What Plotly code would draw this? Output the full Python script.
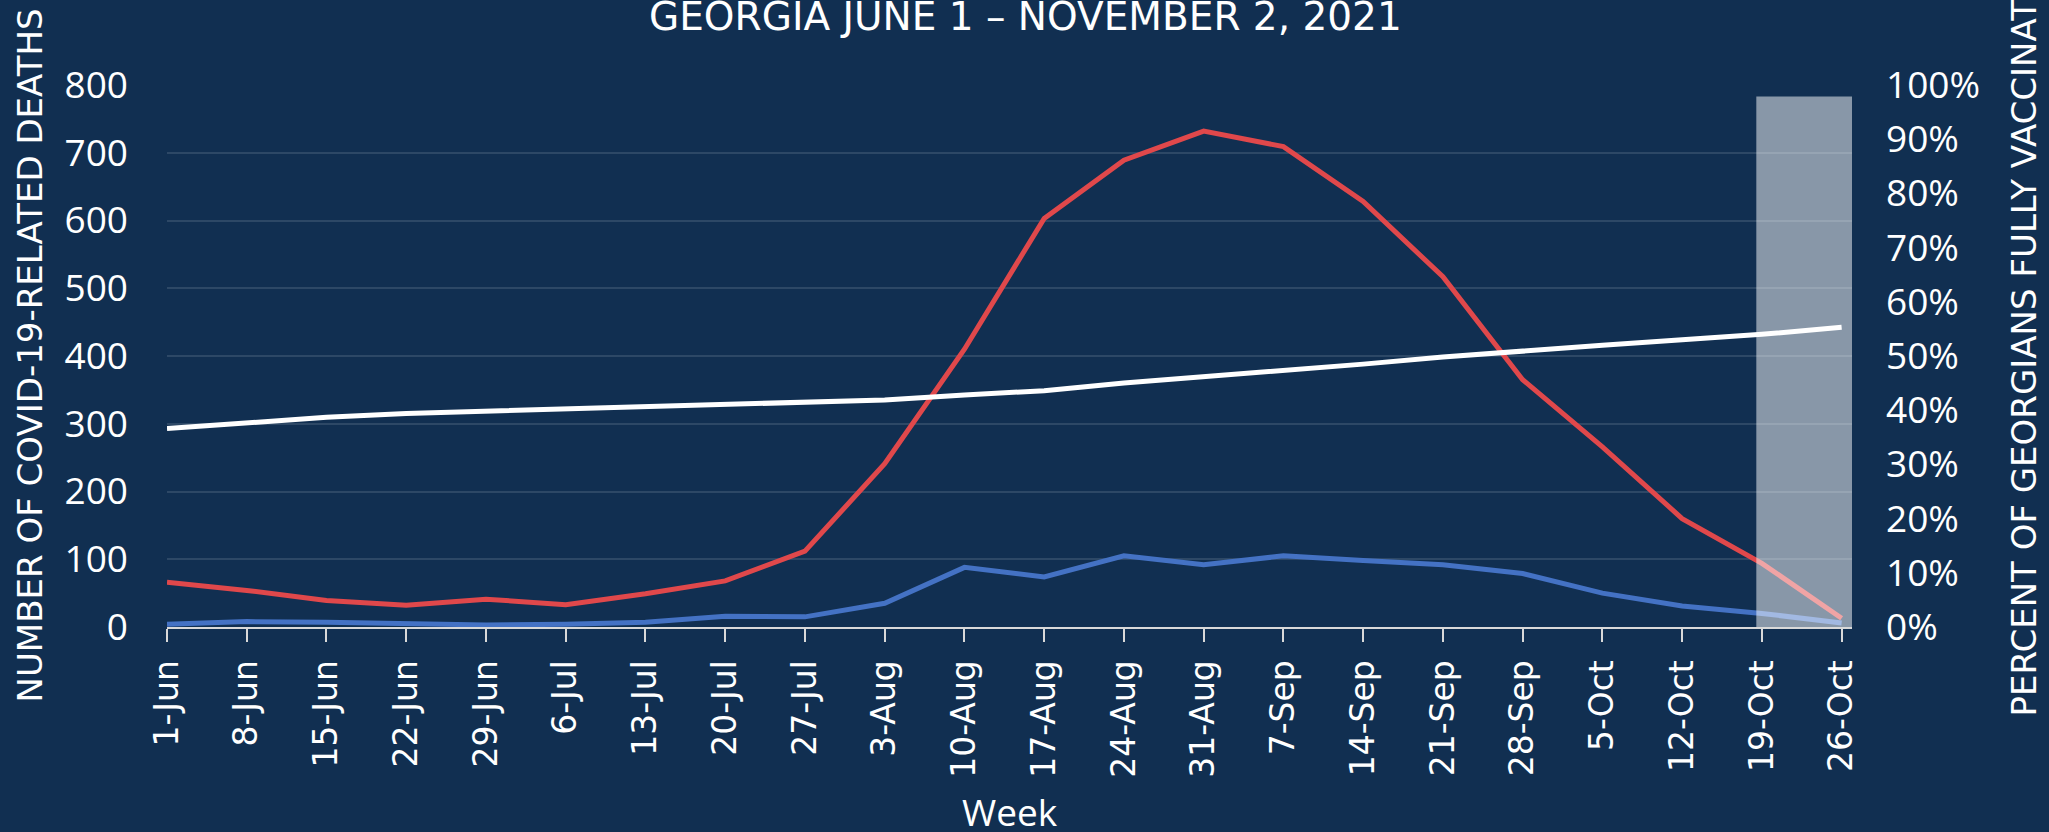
import plotly.graph_objects as go

weeks = ["1-Jun", "8-Jun", "15-Jun", "22-Jun", "29-Jun", "6-Jul", "13-Jul", "20-Jul",
         "27-Jul", "3-Aug", "10-Aug", "17-Aug", "24-Aug", "31-Aug", "7-Sep", "14-Sep",
         "21-Sep", "28-Sep", "5-Oct", "12-Oct", "19-Oct", "26-Oct"]
deaths_red = [66, 54, 39, 32, 41, 33, 49, 68, 112, 241, 410, 603, 689, 732, 709, 628,
              517, 365, 266, 160, 94, 13]
deaths_blue = [4, 8, 7, 5, 3, 4, 7, 16, 15, 35, 88, 74, 105, 92, 105, 98, 92, 79, 50, 31, 20, 6]
pct_fully_vaccinated = [0.366, 0.377, 0.387, 0.394, 0.398, 0.403, 0.407, 0.411, 0.414, 0.419,
                        0.428, 0.436, 0.450, 0.461, 0.474, 0.485, 0.498, 0.510, 0.520, 0.530,
                        0.540, 0.553]
left_ticks = [0, 100, 200, 300, 400, 500, 600, 700, 800]
right_ticks = [0, 0.1, 0.2, 0.3, 0.4, 0.5, 0.6, 0.7, 0.8, 0.9, 1.0]
shade_from_week = "19-Oct"
shade_top = 783

BG = "#112F51"
RED = "#E0484B"
BLUE = "#4472C4"
GRID = "rgba(255,255,255,0.12)"
AXIS = "#D9D9D9"

xs = list(range(len(weeks)))
x_max = len(weeks) - 1 + 0.13

fig = go.Figure()
fig.add_trace(go.Scatter(x=xs, y=deaths_red, mode="lines", name="Deaths (red)",
                         line=dict(color=RED, width=5), yaxis="y"))
fig.add_trace(go.Scatter(x=xs, y=deaths_blue, mode="lines", name="Deaths (blue)",
                         line=dict(color=BLUE, width=5), yaxis="y"))
fig.add_trace(go.Scatter(x=xs, y=pct_fully_vaccinated, mode="lines", name="Percent fully vaccinated",
                         line=dict(color="#FFFFFF", width=5), yaxis="y2"))

fig.add_shape(type="rect", xref="x", yref="y",
              x0=weeks.index(shade_from_week) - 0.07, x1=x_max, y0=0, y1=shade_top,
              fillcolor="rgba(255,255,255,0.5)", line=dict(width=0), layer="above")

num_font = dict(family="Open Sans", size=37, color="white")

fig.update_layout(
    width=2049, height=832,
    paper_bgcolor=BG, plot_bgcolor=BG,
    margin=dict(l=167, r=197, t=85, b=205),
    showlegend=False,
    xaxis=dict(range=[0, x_max], tickvals=xs, ticktext=weeks, tickangle=-90,
               showgrid=False, zeroline=False, showline=True, linecolor=AXIS, linewidth=2,
               ticks="outside", ticklen=13, tickwidth=2, tickcolor=AXIS,
               tickfont=dict(family="DejaVu Sans", size=33, color="white"),
               ticklabelstandoff=5, automargin=False),
    yaxis=dict(range=[0, 800], tickvals=left_ticks, showgrid=True, gridcolor=GRID, gridwidth=2,
               zeroline=False, showline=False, ticks="", tickfont=num_font,
               ticklabelstandoff=38, automargin=False),
    yaxis2=dict(range=[0, 1], tickvals=right_ticks, tickformat=".0%", overlaying="y", side="right",
                showgrid=False, zeroline=False, showline=False, ticks="", tickfont=num_font,
                ticklabelstandoff=33, automargin=False),
    annotations=[
        dict(text="GEORGIA JUNE 1 – NOVEMBER 2, 2021", xref="paper", yref="paper",
             x=(1025 - 167) / 1685, y=(627 - 16) / 542, xanchor="center", yanchor="middle",
             showarrow=False, font=dict(family="DejaVu Sans", size=39, color="white")),
        dict(text="NUMBER OF COVID-19-RELATED DEATHS", xref="paper", yref="paper",
             x=(29.5 - 167) / 1685, y=0.5, xanchor="center", yanchor="middle", textangle=-90,
             showarrow=False, font=dict(family="DejaVu Sans", size=34, color="white")),
        dict(text="PERCENT OF GEORGIANS FULLY VACCINATED", xref="paper", yref="paper",
             x=(2023 - 167) / 1685, y=(627 - 334.5) / 542, xanchor="center", yanchor="middle",
             textangle=-90, showarrow=False,
             font=dict(family="DejaVu Sans", size=34, color="white")),
        dict(text="Week", xref="paper", yref="paper",
             x=(1010 - 167) / 1685, y=(627 - 811) / 542, xanchor="center", yanchor="middle",
             showarrow=False, font=dict(family="Open Sans", size=37, color="white")),
    ],
)

page_fix = ("document.documentElement.style.margin='0';document.documentElement.style.padding='0';"
            "document.documentElement.style.overflow='hidden';"
            "document.body.style.margin='0';document.body.style.padding='0';"
            "document.body.style.overflow='hidden';document.body.style.background='" + BG + "';")

fig.write_html("out.html", post_script=page_fix, config={"displayModeBar": False})
